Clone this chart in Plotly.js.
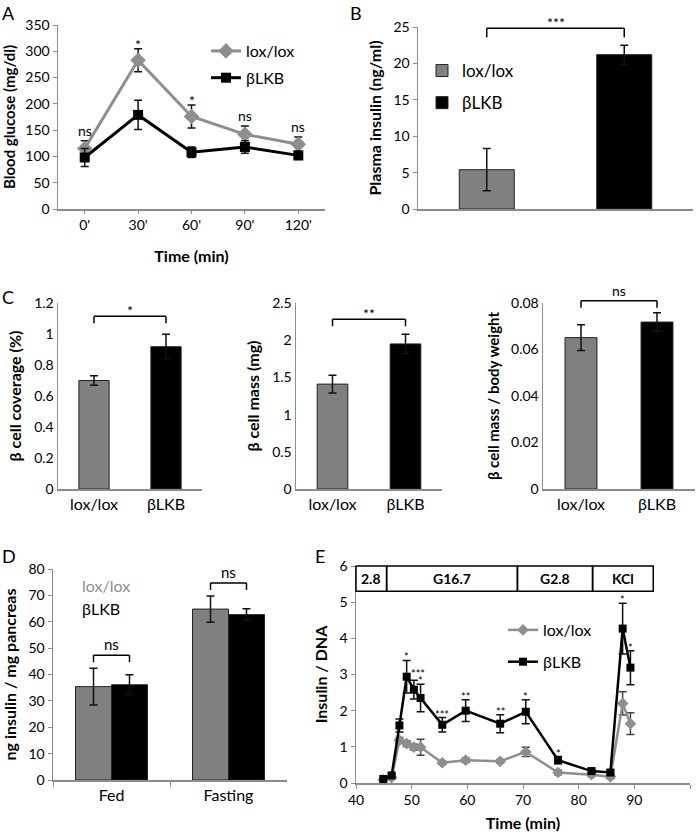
<!DOCTYPE html>
<html><head><meta charset="utf-8">
<script src="https://cdn.plot.ly/plotly-3.0.1.min.js"></script>
<style>html,body{margin:0;padding:0;background:#fff}#chart{width:700px;height:835px}</style>
</head><body><div id="chart"></div>
<script>
// ---------- Panel A : glucose tolerance ----------
const timeLabelsA = ["0'", "30'", "60'", "90'", "120'"];
const loxA = [115, 283, 176, 142, 123];
const loxAErr = [15, 22, 22, 16, 14];
const lkbA = [98, 179, 108, 118, 102];
const lkbAErr = [17, 28, 10, 12, 8];
const sigA = ['ns', '*', '*', 'ns', 'ns'];

// ---------- Panel B : plasma insulin ----------
const groups = ['lox/lox', 'βLKB'];
const insulinB = [5.4, 21.2];
const insulinBErr = [2.9, 1.3];
const sigB = '***';

// ---------- Panel C : beta cell measures ----------
const coverageC = [0.70, 0.918];
const coverageCErr = [0.03, 0.08];
const massC = [1.41, 1.95];
const massCErr = [0.12, 0.13];
const massBwC = [0.0651, 0.0718];
const massBwCErr = [0.0055, 0.004];
const sigC = ['*', '**', 'ns'];

// ---------- Panel D : pancreatic insulin ----------
const conditionsD = ['Fed', 'Fasting'];
const loxD = [35.4, 64.8];
const loxDErr = [7, 5];
const lkbD = [36.1, 62.7];
const lkbDErr = [3.8, 2.2];
const sigD = ['ns', 'ns'];

// ---------- Panel E : perifusion ----------
const timeE = [44.9, 46.4, 47.8, 49.1, 50.4, 51.6, 55.5, 59.7, 65.9, 70.5, 76.3, 82.3, 85.7, 87.9, 89.3];
const loxE = [0.09, 0.15, 1.18, 1.09, 0.99, 0.99, 0.56, 0.63, 0.60, 0.86, 0.29, 0.23, 0.17, 2.20, 1.64];
const loxEErr = [0.02, 0.03, 0.08, 0.08, 0.08, 0.22, 0.05, 0.06, 0.05, 0.13, 0.06, 0.05, 0.05, 0.32, 0.30];
const lkbE = [0.11, 0.21, 1.59, 2.94, 2.58, 2.35, 1.61, 2.00, 1.64, 1.97, 0.63, 0.33, 0.29, 4.27, 3.19];
const lkbEErr = [0.03, 0.04, 0.18, 0.45, 0.26, 0.38, 0.20, 0.30, 0.25, 0.33, 0.10, 0.05, 0.06, 0.70, 0.47];
const sigE = ['', '', '', '*', '***', '*', '***', '**', '**', '*', '*', '', '', '*', '*'];
const phaseLabels = ['2.8', 'G16.7', 'G2.8', 'KCl'];
const phaseStart = [40, 45.5, 69, 82.5];
const phaseEnd = [45.5, 69, 82.5, 93.4];
const phaseBottom = 5.3;

// ---------- styling / layout ----------
const W = 700, H = 835;
const FONT = 'Lato, "Open Sans", "DejaVu Sans", sans-serif';
const GRAY_LINE = '#8e8e8e';
const GRAY_BAR = '#808080';
const AXIS = '#8c8c8c';

const box = {
  A: {x: [58, 325], y: [25, 209], r: [0, 350]},
  B: {x: [418, 693], y: [27, 209], r: [0, 25]},
  C1: {x: [58, 202], y: [303, 489], r: [0, 1.2]},
  C2: {x: [296, 442], y: [303, 489], r: [0, 2.5]},
  C3: {x: [543, 695], y: [303, 489], r: [0, 0.08]},
  D: {x: [53, 287], y: [569, 780], r: [0, 80]},
  E: {x: [356, 690], y: [566, 783], r: [0, 6], xr: [40, 100]}
};
const xd = b => [b.x[0] / W, b.x[1] / W];
const yd = b => [1 - b.y[1] / H, 1 - b.y[0] / H];
const fy = (b, v) => (v - b.r[0]) / (b.r[1] - b.r[0]);

function yAx(b, title, dtick, extra, tsize) {
  return Object.assign({
    domain: yd(b), range: b.r, dtick: dtick, showline: true, linecolor: AXIS, linewidth: 1.5,
    showgrid: false, zeroline: false, ticks: 'outside', ticklen: 4, tickcolor: AXIS,
    tickfont: {size: 14, color: '#000'}, automargin: false,
    title: {text: title, font: {size: tsize || 15, weight: 'bold', color: '#000'}, standoff: 8}
  }, extra || {});
}
function xAx(b, extra) {
  return Object.assign({
    domain: xd(b), showline: true, linecolor: AXIS, linewidth: 1.5, showgrid: false, zeroline: false,
    ticks: '', tickfont: {size: 16, color: '#000'}, automargin: false, fixedrange: true
  }, extra || {});
}

const errStyle = (arr, c) => ({type: 'data', array: arr, visible: true, color: c || '#111', thickness: 1.5, width: 4});

const traces = [];
// A
traces.push({type: 'scatter', mode: 'lines+markers', x: timeLabelsA, y: loxA, name: 'lox/lox',
  line: {color: GRAY_LINE, width: 3}, marker: {symbol: 'diamond', size: 12, color: GRAY_LINE},
  error_y: errStyle(loxAErr), xaxis: 'x', yaxis: 'y', legend: 'legend', legendgroup: 'a1'});
traces.push({type: 'scatter', mode: 'lines+markers', x: timeLabelsA, y: lkbA, name: 'βLKB',
  line: {color: '#000', width: 3}, marker: {symbol: 'square', size: 10, color: '#000'},
  error_y: errStyle(lkbAErr), xaxis: 'x', yaxis: 'y', legend: 'legend', legendgroup: 'a2'});
// B
[0, 1].forEach(i => traces.push({type: 'bar', x: [groups[i]], y: [insulinB[i]], name: groups[i],
  marker: {color: i ? '#000' : GRAY_BAR, line: {color: '#222', width: 1}}, width: 0.4, offsetgroup: 'b',
  error_y: errStyle([insulinBErr[i]]), xaxis: 'x2', yaxis: 'y2', legend: 'legend2', legendgroup: 'b' + i}));
// C
[[coverageC, coverageCErr, 3], [massC, massCErr, 4], [massBwC, massBwCErr, 5]].forEach(([v, e, n]) =>
  traces.push({type: 'bar', x: groups, y: v, width: 0.42, showlegend: false,
    marker: {color: [GRAY_BAR, '#000'], line: {color: '#222', width: 1}},
    error_y: errStyle(e), xaxis: 'x' + n, yaxis: 'y' + n}));
// D
traces.push({type: 'bar', x: conditionsD, y: loxD, name: 'lox/lox', showlegend: false,
  marker: {color: GRAY_BAR, line: {color: '#222', width: 1}}, error_y: errStyle(loxDErr), xaxis: 'x6', yaxis: 'y6'});
traces.push({type: 'bar', x: conditionsD, y: lkbD, name: 'βLKB', showlegend: false,
  marker: {color: '#000', line: {color: '#222', width: 1}}, error_y: errStyle(lkbDErr), xaxis: 'x6', yaxis: 'y6'});
// E
traces.push({type: 'scatter', mode: 'lines+markers', x: timeE, y: loxE, name: 'lox/lox',
  line: {color: GRAY_LINE, width: 2.5}, marker: {symbol: 'diamond', size: 9, color: GRAY_LINE},
  error_y: errStyle(loxEErr, '#444'), xaxis: 'x7', yaxis: 'y7', legend: 'legend3', legendgroup: 'e1'});
traces.push({type: 'scatter', mode: 'lines+markers', x: timeE, y: lkbE, name: 'βLKB',
  line: {color: '#000', width: 2.5}, marker: {symbol: 'square', size: 8, color: '#000'},
  error_y: errStyle(lkbEErr, '#111'), xaxis: 'x7', yaxis: 'y7', legend: 'legend3', legendgroup: 'e2'});

// ---------- annotations & shapes ----------
const annotations = [];
const shapes = [];
const letter = (t, x, y) => annotations.push({text: t, xref: 'paper', yref: 'paper', x: x / W, y: 1 - y / H,
  xanchor: 'left', yanchor: 'top', showarrow: false, font: {size: 18, color: '#000'}});
letter('A', 0, 0); letter('B', 348, 0); letter('C', 0, 284); letter('D', 0, 543); letter('E', 313, 543);

const starShift = s => (s.indexOf('*') >= 0 ? -6 : 0);
// A significance
sigA.forEach((s, i) => {
  const top = Math.max(loxA[i] + loxAErr[i], lkbA[i] + lkbAErr[i]);
  annotations.push({text: s, x: timeLabelsA[i], y: top, xref: 'x', yref: 'y', xanchor: 'center', yanchor: 'bottom',
    yshift: starShift(s), showarrow: false, font: {size: 14, color: '#000'}});
});

function bracket(n, b, xf0, xf1, top, padPx, legPx, label, fsize) {
  const hpx = b.y[1] - b.y[0];
  const yf = fy(b, top) + padPx / hpx;
  const leg = legPx / hpx;
  const ref = {xref: 'x' + n + ' domain', yref: 'y' + n + ' domain', line: {color: '#000', width: 1.5}};
  shapes.push(Object.assign({type: 'line', x0: xf0, x1: xf0, y0: yf - leg, y1: yf}, ref));
  shapes.push(Object.assign({type: 'line', x0: xf0, x1: xf1, y0: yf, y1: yf}, ref));
  shapes.push(Object.assign({type: 'line', x0: xf1, x1: xf1, y0: yf - leg, y1: yf}, ref));
  annotations.push({text: label, xref: 'x' + n + ' domain', yref: 'y' + n + ' domain', x: (xf0 + xf1) / 2, y: yf,
    xanchor: 'center', yanchor: 'bottom', yshift: label.indexOf('*') >= 0 ? -5 : 0, showarrow: false,
    font: {size: fsize || 14, color: '#000'}});
}
// B
bracket(2, box.B, 0.25, 0.75, Math.max(...insulinB.map((v, i) => v + insulinBErr[i])), 17, 9, sigB);
// C
bracket(3, box.C1, 0.25, 0.75, Math.max(...coverageC.map((v, i) => v + coverageCErr[i])), 18, 7, sigC[0]);
bracket(4, box.C2, 0.25, 0.75, Math.max(...massC.map((v, i) => v + massCErr[i])), 15, 7, sigC[1]);
bracket(5, box.C3, 0.25, 0.75, Math.max(...massBwC.map((v, i) => v + massBwCErr[i])), 12, 7, sigC[2]);
// D (grouped bars: offset of each bar within its category)
const bargapD = 0.385;
const offD = (1 - bargapD) / 4;
conditionsD.forEach((c, i) => {
  const top = Math.max(loxD[i] + loxDErr[i], lkbD[i] + lkbDErr[i]);
  bracket(6, box.D, (i - offD + 0.5) / 2, (i + offD + 0.5) / 2, top, 13, 7, sigD[i], 15);
});
// D inline legend text
annotations.push({text: groups[0], xref: 'paper', yref: 'paper', x: 80 / W, y: 1 - 574 / H, xanchor: 'left', yanchor: 'top',
  showarrow: false, font: {size: 16, color: GRAY_LINE}});
annotations.push({text: groups[1], xref: 'paper', yref: 'paper', x: 80 / W, y: 1 - 597 / H, xanchor: 'left', yanchor: 'top',
  showarrow: false, font: {size: 16, color: '#000'}});
// E significance (a label crowded next to a neighbouring one is nudged sideways, as in the original)
sigE.forEach((s, i) => {
  if (!s) return;
  const crowded = i > 0 && sigE[i + 1] && s.length > sigE[i + 1].length && timeE[i + 1] - timeE[i] < 2;
  annotations.push({text: s, x: timeE[i], y: lkbE[i] + lkbEErr[i], xref: 'x7', yref: 'y7', xanchor: 'center', yanchor: 'bottom',
    yshift: crowded ? -2 : -5, xshift: crowded ? 4 : 0, showarrow: false, font: {size: 11, color: '#000'}});
});
// E phase header boxes
const fxE = v => (v - box.E.xr[0]) / (box.E.xr[1] - box.E.xr[0]);
phaseLabels.forEach((p, i) => {
  shapes.push({type: 'rect', xref: 'x7 domain', yref: 'y7 domain', x0: fxE(phaseStart[i]), x1: fxE(phaseEnd[i]),
    y0: fy(box.E, phaseBottom), y1: fy(box.E, box.E.r[1]), line: {color: '#000', width: 1.5}, fillcolor: 'rgba(0,0,0,0)'});
  annotations.push({text: p, xref: 'x7 domain', yref: 'y7 domain', x: fxE((phaseStart[i] + phaseEnd[i]) / 2),
    y: fy(box.E, (phaseBottom + box.E.r[1]) / 2), xanchor: 'center', yanchor: 'middle', showarrow: false,
    font: {size: 14, weight: 'bold', color: '#000'}});
});

const legendBase = {xanchor: 'left', yanchor: 'top', bgcolor: 'rgba(0,0,0,0)', borderwidth: 0,
  font: {size: 16, color: '#000'}, traceorder: 'grouped', itemclick: false};

const layout = {
  width: W, height: H, margin: {l: 0, r: 0, t: 0, b: 0}, paper_bgcolor: '#fff', plot_bgcolor: 'rgba(0,0,0,0)',
  font: {family: FONT, color: '#000'}, barmode: 'group', bargap: bargapD, bargroupgap: 0,
  showlegend: true,
  legend: Object.assign({}, legendBase, {x: 206 / W, y: 1 - 34 / H, tracegroupgap: 3}),
  legend2: Object.assign({}, legendBase, {x: 422 / W, y: 1 - 53 / H, tracegroupgap: 7, font: {size: 17, color: '#000'}}),
  legend3: Object.assign({}, legendBase, {x: 503 / W, y: 1 - 613 / H, tracegroupgap: 8}),
  xaxis: xAx(box.A, {anchor: 'y', type: 'category', range: [-0.5, 4.5], ticks: 'outside',
    ticklen: 3, tickcolor: AXIS, tickfont: {size: 14, color: '#000'},
    title: {text: 'Time (min)', font: {size: 16, weight: 'bold', color: '#000'}, standoff: 18}}),
  yaxis: yAx(box.A, 'Blood glucose (mg/dl)', 50, {anchor: 'x'}),
  xaxis2: xAx(box.B, {anchor: 'y2', type: 'category', range: [-0.5, 1.5], showticklabels: false}),
  yaxis2: yAx(box.B, 'Plasma insulin (ng/ml)', 5, {anchor: 'x2'}, 16),
  xaxis3: xAx(box.C1, {anchor: 'y3', type: 'category', range: [-0.5, 1.5]}),
  yaxis3: yAx(box.C1, 'β cell coverage (%)', 0.2, {anchor: 'x3', ticks: ''}, 16),
  xaxis4: xAx(box.C2, {anchor: 'y4', type: 'category', range: [-0.5, 1.5]}),
  yaxis4: yAx(box.C2, 'β cell mass (mg)', 0.5, {anchor: 'x4', ticks: ''}, 16),
  xaxis5: xAx(box.C3, {anchor: 'y5', type: 'category', range: [-0.5, 1.5]}),
  yaxis5: yAx(box.C3, 'β cell mass / body weight', 0.02, {anchor: 'x5', ticks: ''}, 15),
  xaxis6: xAx(box.D, {anchor: 'y6', type: 'category', range: [-0.5, 1.5], ticks: 'outside', tickson: 'boundaries',
    ticklen: 5, tickcolor: AXIS}),
  yaxis6: yAx(box.D, 'ng insulin / mg pancreas', 10, {anchor: 'x6'}, 16),
  xaxis7: xAx(box.E, {anchor: 'y7', range: box.E.xr, dtick: 10, ticks: 'outside', ticklen: 4, tickcolor: AXIS,
    tickfont: {size: 14, color: '#000'},
    title: {text: 'Time (min)', font: {size: 16, weight: 'bold', color: '#000'}, standoff: 10}}),
  yaxis7: yAx(box.E, 'Insulin / DNA', 1, {anchor: 'x7'}, 16),
  annotations: annotations,
  shapes: shapes
};

Plotly.newPlot('chart', traces, layout, {staticPlot: true, displayModeBar: false});
</script>
</body></html>
